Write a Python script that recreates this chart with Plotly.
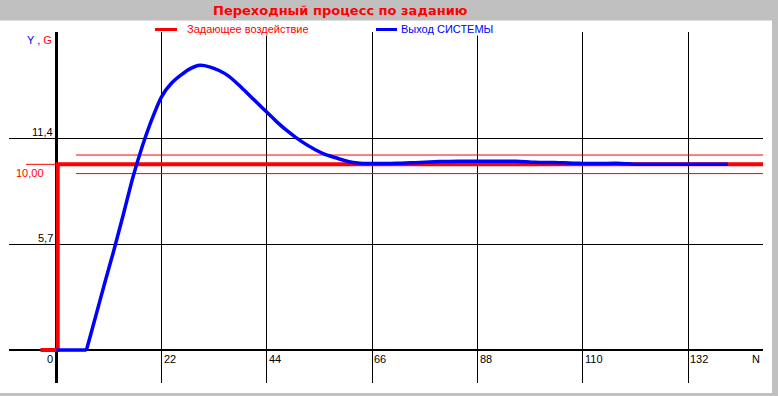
import plotly.graph_objects as go

# ---- data ----
title_text = "Переходный процесс по заданию"
legend_input = "Задающее воздействие"
legend_output = "Выход СИСТЕМЫ"

x_ticks = [22, 44, 66, 88, 110, 132]
x_tick_labels = ["22", "44", "66", "88", "110", "132"]
y_ticks = [5.7, 11.4, 17.1]
y_tick_labels = ["5,7", "11,4"]
setpoint = 10.0
setpoint_label = "10,00"
band_lo = 9.5
band_hi = 10.5

input_N = [-3.3, 0.3, 0.3, 147.6]
input_Y = [0, 0, 10, 10]

band_N = [4.1, 147.6]

output_N = [0, 2, 4, 6.3, 8, 10, 12, 14, 16, 18, 20, 22, 24, 26, 28, 30, 32, 34, 36, 38, 40,
            42, 44, 46, 48, 50, 52, 54, 56, 58, 60, 62, 64, 66, 68, 70, 72, 74, 76, 78, 80,
            84, 88, 92, 96, 98, 100, 102, 104, 106, 108, 110, 114, 118, 120, 122, 126, 130,
            134, 138, 140.3]
output_Y = [0, 0, 0, 0, 1.6, 3.5, 5.35, 7.3, 9.3, 11.0, 12.45, 13.65, 14.35, 14.8, 15.15,
            15.33, 15.25, 15.05, 14.75, 14.3, 13.8, 13.3, 12.8, 12.3, 11.85, 11.45, 11.1,
            10.8, 10.55, 10.38, 10.22, 10.1, 10.05, 10.05, 10.05, 10.05, 10.06, 10.08, 10.1,
            10.13, 10.15, 10.16, 10.16, 10.16, 10.16, 10.14, 10.11, 10.1, 10.1, 10.08, 10.06,
            10.05, 10.05, 10.05, 10.02, 10.0, 10.0, 10.0, 10.0, 10.0, 10.0]

# dead-time part (flat) ends at index 3 (N = 6.3)
DEAD = 3

# ---- layout helpers (pixel -> paper) ----
L, R, T, B = 9, 763, 32, 383
W, H = 778, 396


def px(x):
    return (x - L) / (R - L)


def py(y):
    return (B - y) / (B - T)


RED = "#FF0000"
BLUE = "#0000FF"
SMALL = dict(family="Liberation Sans, Arial, sans-serif", size=11)

fig = go.Figure()

# band lines
for v in (band_lo, band_hi):
    fig.add_trace(go.Scatter(x=band_N, y=[v, v], mode="lines",
                             line=dict(color=RED, width=1), hoverinfo="skip",
                             showlegend=False))
# setpoint tick at left
fig.add_trace(go.Scatter(x=[-6.3, 0], y=[setpoint, setpoint], mode="lines",
                         line=dict(color=RED, width=1), hoverinfo="skip", showlegend=False))
# input step
fig.add_trace(go.Scatter(x=input_N, y=input_Y, mode="lines",
                         line=dict(color=RED, width=4), name=legend_input, showlegend=False))
# output: dead time (linear) + response (smooth)
fig.add_trace(go.Scatter(x=output_N[:DEAD + 1], y=output_Y[:DEAD + 1], mode="lines",
                         line=dict(color=BLUE, width=3.5), name=legend_output,
                         showlegend=False))
fig.add_trace(go.Scatter(x=output_N[DEAD:], y=output_Y[DEAD:], mode="lines",
                         line=dict(color=BLUE, width=3.5, shape="spline", smoothing=0.5),
                         name=legend_output, showlegend=False))

annotations = []


def ann(text, x, y, xanchor="center", color="black", font=None, bg=None):
    f = dict(SMALL)
    if font:
        f.update(font)
    f["color"] = color
    d = dict(text=text, x=px(x), y=py(y), xref="paper", yref="paper",
             xanchor=xanchor, yanchor="middle", showarrow=False, font=f,
             borderpad=0)
    if bg:
        d["bgcolor"] = bg
    annotations.append(d)


# title
ann("<b>" + title_text + "</b>", 340, 11, color=RED,
    font=dict(family="DejaVu Sans, sans-serif", size=13))
# legend
ann(legend_input, 186, 29.5, xanchor="left", color=RED, bg="white")
ann(legend_output, 400, 29.5, xanchor="left", color=BLUE, bg="white")
# axis name
ann("<span style='color:#0000FF'>Y ,</span> <span style='color:#FF0000'>G</span>",
    53, 40, xanchor="right")
# x tick labels
ann("0", 53.5, 358.5, xanchor="right")
for v, t in zip(x_ticks, x_tick_labels):
    xp = 56.3 + v * 4.788
    ann(t, xp + 1, 358.5, xanchor="left")
ann("N", 756, 358.5)
# y tick labels
for v, t in zip(y_ticks[:2], y_tick_labels):
    yp = 350 - v * 18.58
    ann(t, 53.5, yp - 6.5, xanchor="right")
ann(setpoint_label, 44.5, 172.5, xanchor="right", color=RED)

shapes = [
    # white panel
    dict(type="rect", xref="paper", yref="paper", x0=px(0), x1=px(772), y0=py(393),
         y1=py(20.5), fillcolor="white", line=dict(width=0), layer="below"),
    # legend samples
    dict(type="line", xref="paper", yref="paper", x0=px(155), x1=px(177), y0=py(29.5),
         y1=py(29.5), line=dict(color=RED, width=3)),
    dict(type="line", xref="paper", yref="paper", x0=px(376), x1=px(397), y0=py(29.5),
         y1=py(29.5), line=dict(color=BLUE, width=3)),
]

fig.update_layout(
    width=W, height=H,
    margin=dict(l=L, r=W - R, t=T, b=H - B, pad=0),
    paper_bgcolor="#C0C0C0",
    plot_bgcolor="white",
    annotations=annotations,
    shapes=shapes,
    showlegend=False,
    xaxis=dict(range=[(L - 56.3) / 4.788, (R - 56.3) / 4.788], tickvals=x_ticks,
               showticklabels=False, ticks="", showgrid=True, gridcolor="black",
               gridwidth=1, zeroline=True, zerolinecolor="black", zerolinewidth=3,
               showline=False, fixedrange=True),
    yaxis=dict(range=[-(B - 350) / 18.58, (350 - T) / 18.58 + 0.01], tickvals=y_ticks,
               showticklabels=False, ticks="", showgrid=True, gridcolor="black",
               gridwidth=1, zeroline=True, zerolinecolor="black", zerolinewidth=2,
               showline=False, fixedrange=True),
)

fig.write_html(
    "out.html",
    config={"displayModeBar": False},
    post_script="document.body.style.margin='0';document.body.style.padding='0';"
                "document.body.style.overflow='hidden';",
)
